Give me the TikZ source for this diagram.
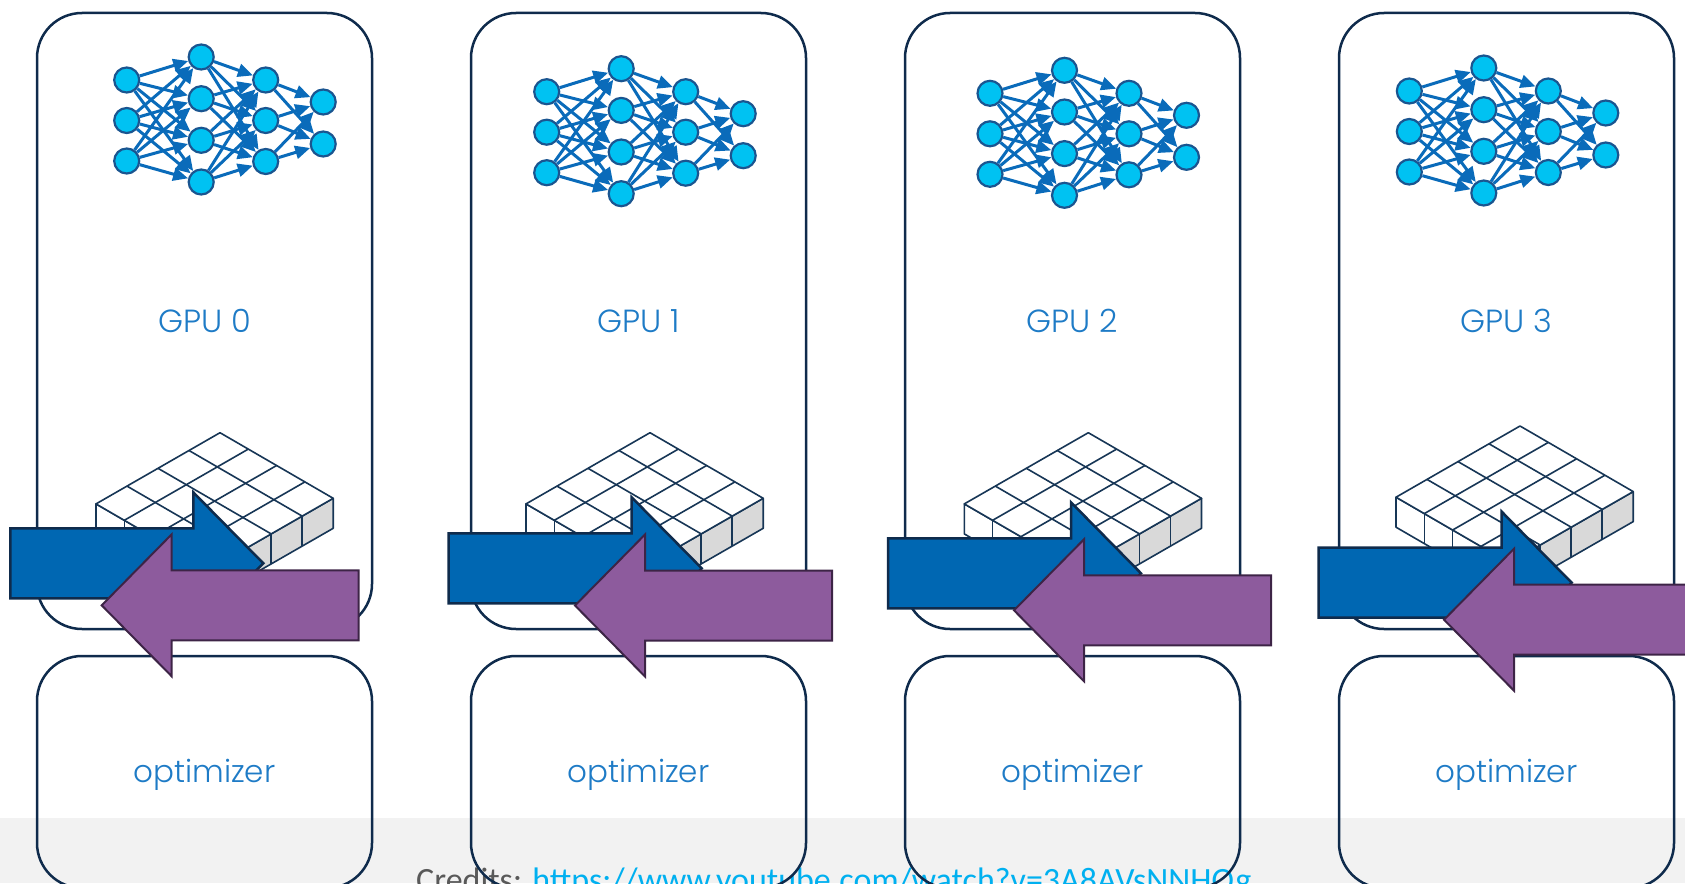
\documentclass[tikz,border=0pt]{standalone}
\usepackage{fontspec}
\usetikzlibrary{arrows.meta,calc}
\newfontfamily\lblfont{Poppins Light}
\newfontfamily\credfont{Carlito}

\definecolor{navy}{HTML}{0F2B4C}
\definecolor{lblblue}{HTML}{1E7BC6}
\definecolor{nfill}{HTML}{00C2F2}
\definecolor{nstroke}{HTML}{1A5590}
\definecolor{syncol}{HTML}{0A6BBA}
\definecolor{bluefill}{HTML}{0067B2}
\definecolor{purplefill}{HTML}{8D5B9D}
\definecolor{purpleline}{HTML}{3D2446}
\definecolor{gridline}{HTML}{173656}
\definecolor{gridgray}{HTML}{D9D9D9}
\definecolor{band}{HTML}{F2F2F2}
\definecolor{credgray}{HTML}{595959}
\definecolor{linkcyan}{HTML}{00B0F0}

\tikzset{
  boxframe/.style={draw=navy, line width=2.5pt, rounded corners=45pt,
    minimum width=335pt, inner sep=0pt},
  gpubox/.style={boxframe, minimum height=616pt,
    text=lblblue, font=\lblfont\fontsize{32}{38}\selectfont},
  optbox/.style={boxframe, minimum height=232pt},
  optlabel/.style={text=lblblue, inner sep=0pt, font=\lblfont\fontsize{31}{36}\selectfont},
  neuron/.style={circle, draw=nstroke, fill=nfill, line width=2.2pt,
    minimum size=25pt, inner sep=0pt},
  syn/.style={draw=syncol, line width=3pt, -{Triangle[length=15pt,width=13pt]}},
  cell/.style={draw=gridline, line width=1.6pt, line join=round},
  bluearrow/.style={fill=bluefill, draw=navy, line width=2.5pt, line join=miter},
  purplearrow/.style={fill=purplefill, draw=purpleline, line width=2pt, line join=miter},
}

% fully connected 3-4-3-2 network; #2,#3 = centre of the top input neuron
\newcommand{\nnet}[3]{%
  \begin{scope}[shift={(#2,#3)}]
    \foreach \yy [count=\i] in {0,40.5,81} \node[neuron] (#1a\i) at (0,\yy) {};
    \foreach \yy [count=\i] in {-23,18.7,60.3,102} \node[neuron] (#1b\i) at (74.5,\yy) {};
    \foreach \yy [count=\i] in {0,40.5,81.5} \node[neuron] (#1c\i) at (139,\yy) {};
    \foreach \yy [count=\i] in {22,64} \node[neuron] (#1d\i) at (196.5,\yy) {};
    \foreach \i in {1,2,3} {\foreach \j in {1,2,3,4} {\draw[syn] (#1a\i) -- (#1b\j);}}
    \foreach \i in {1,2,3,4} {\foreach \j in {1,2,3} {\draw[syn] (#1b\i) -- (#1c\j);}}
    \foreach \i in {1,2,3} {\foreach \j in {1,2} {\draw[syn] (#1c\i) -- (#1d\j);}}
  \end{scope}}

% 4x4 isometric slab of cubes; #1,#2 = back top corner
\newcommand{\tensorgrid}[2]{%
  \begin{scope}[shift={(#1,#2)}]
    \coordinate (T) at (0,0);
    \coordinate (L) at (-124,71.2);
    \coordinate (R) at (113.2,65.6);
    \coordinate (F) at (-10.8,136.8);
    \filldraw[cell, fill=white] (L) -- (F) -- ++(0,30) -- ++(-113.2,-65.6) -- cycle;
    \filldraw[cell, fill=gridgray] (F) -- (R) -- ++(0,30) -- ++(-124,71.2) -- cycle;
    \filldraw[cell, fill=white] (T) -- (L) -- (F) -- (R) -- cycle;
    \foreach \k in {1,2,3} {
      \draw[cell] ($(T)!\k/4!(L)$) -- ($(R)!\k/4!(F)$);
      \draw[cell] ($(T)!\k/4!(R)$) -- ($(L)!\k/4!(F)$);
      \draw[cell] ($(L)!\k/4!(F)$) -- ++(0,30);
      \draw[cell] ($(F)!\k/4!(R)$) -- ++(0,30);
    }
  \end{scope}}

% block arrows, given by their tips
\newcommand{\pushright}[2]{\draw[bluearrow] (#1,#2) -- ++(-70,-71) -- ++(0,36) -- ++(-183,0) -- ++(0,70) -- ++(183,0) -- ++(0,36) -- cycle;}
\newcommand{\pushleft}[2]{\draw[purplearrow] (#1,#2) -- ++(70,-71) -- ++(0,36) -- ++(187,0) -- ++(0,70) -- ++(-187,0) -- ++(0,36) -- cycle;}

\begin{document}
\begin{tikzpicture}[x=1pt,y=-1pt]
  \useasboundingbox (0,0) rectangle (1685,883);
  \fill[band] (0,818) rectangle (1685,883);

  \node[anchor=base west, inner sep=0pt, text=credgray,
        font=\credfont\fontsize{34}{40}\selectfont] (credits) at (416,891)
        {Credits: \textcolor{linkcyan}{https://www.youtube.com/watch?v=3A8AVsNNHQg}};

  % GPU columns
  \foreach \g in {0,1,2,3} {
    \node[gpubox] (gpu\g) at ({204.5+434*\g},321) {GPU \g};
    \node[optbox] (opt\g) at ({204.5+434*\g},772) {};
    \node[optlabel] (optlbl\g) at ({204.5+434*\g},775) {optimizer};
  }

  \nnet{n0}{126.7}{80}
  \nnet{n1}{546.7}{91.7}
  \nnet{n2}{990}{93.3}
  \nnet{n3}{1409.3}{91}

  \tensorgrid{220}{432.7}
  \tensorgrid{650}{432.7}
  \tensorgrid{1088.3}{432.7}
  \tensorgrid{1520}{426}

  \pushright{263.3}{563.3}
  \pushleft{101.7}{605.3}
  \pushright{701.7}{568.3}
  \pushleft{575}{605.5}
  \pushright{1141}{573.3}
  \pushleft{1014}{610.3}
  \pushright{1571.7}{582.7}
  \pushleft{1444}{619.7}
\end{tikzpicture}
\end{document}
